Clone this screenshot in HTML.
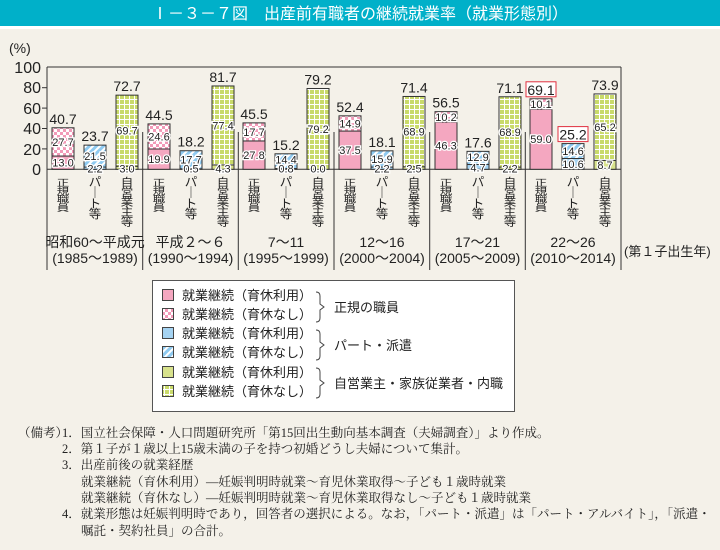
<!DOCTYPE html>
<html><head><meta charset="utf-8"><style>
body{margin:0;background:#f4f1e9;}
svg{display:block;font-family:"Liberation Sans","Noto Sans CJK JP",sans-serif;}
.n{font-family:"Liberation Serif","Noto Serif CJK JP",serif;font-size:12.5px;fill:#222}
.i{font-size:11px;text-anchor:middle;fill:#222;stroke:#fff;stroke-width:2.5px;paint-order:stroke}
.t{font-size:14px;text-anchor:middle;fill:#222}
.v{font-size:12.5px;text-anchor:middle;fill:#222}
.y{font-size:14px;text-anchor:middle;fill:#222}
.bs rect{stroke:#333;stroke-width:1}
</style></head><body>
<svg width="720" height="550" viewBox="0 0 720 550" xmlns="http://www.w3.org/2000/svg">
<defs>
<pattern id="pk" width="6" height="6" patternUnits="userSpaceOnUse"><rect width="6" height="6" fill="#fff"/><rect width="3" height="3" fill="#f29ab8"/><rect x="3" y="3" width="3" height="3" fill="#f29ab8"/></pattern>
<pattern id="bl" width="5" height="5" patternUnits="userSpaceOnUse" patternTransform="rotate(45)"><rect width="5" height="5" fill="#fff"/><rect width="3" height="5" fill="#8fcaf0"/></pattern>
<pattern id="gr" width="5" height="5" patternUnits="userSpaceOnUse"><rect width="5" height="5" fill="#fff"/><rect width="4" height="4" fill="#c9da6a"/></pattern>
<g id="sk"><text y="0">正</text><text y="11.2">規</text><text y="22.4">職</text><text y="33.6">員</text></g>
<g id="pt"><text y="0">パ</text><text y="11.2">｜</text><text y="22.4">ト</text><text y="33.6">等</text></g>
<g id="ji"><text y="0">自</text><text y="11.2">営</text><text y="22.4">業</text><text y="33.6">主</text><text y="44.8">等</text></g>
</defs>
<rect width="720" height="550" fill="#f4f1e9"/>
<rect width="720" height="26" fill="#00b0c9"/>
<rect y="26" width="720" height="3" fill="#fff"/>
<text x="360" y="19" text-anchor="middle" fill="#fff" font-size="16">Ⅰ－３－７図　出産前有職者の継続就業率（就業形態別）</text>
<text x="9" y="53" font-size="14" fill="#222">(%)</text>
<g font-size="16" fill="#222" text-anchor="end">
<text x="41" y="73">100</text><text x="41" y="93">80</text><text x="41" y="114">60</text><text x="41" y="134">40</text><text x="41" y="155">20</text><text x="41" y="175">0</text>
</g>
<g stroke="#333" stroke-width="1">
<line x1="42" y1="87.7" x2="47" y2="87.7"/><line x1="42" y1="108.1" x2="47" y2="108.1"/><line x1="42" y1="128.5" x2="47" y2="128.5"/><line x1="42" y1="148.9" x2="47" y2="148.9"/>
<line x1="47" y1="67" x2="621" y2="67"/>
<line x1="47" y1="67" x2="47" y2="270"/>
<line x1="621" y1="67" x2="621" y2="270"/>
<line x1="47" y1="169.3" x2="621" y2="169.3"/>
<line x1="142.7" y1="132" x2="142.7" y2="270"/><line x1="238.3" y1="132" x2="238.3" y2="270"/><line x1="334" y1="132" x2="334" y2="270"/><line x1="429.7" y1="132" x2="429.7" y2="270"/><line x1="525.3" y1="132" x2="525.3" y2="270"/>
</g>
<g class="bs">
<rect x="52" y="156.04" width="22" height="13.26" fill="#f4a7c0"/><rect x="52" y="127.79" width="22" height="28.25" fill="url(#pk)"/>
<rect x="84" y="167.06" width="22" height="2.24" fill="#a5d3f2"/><rect x="84" y="145.13" width="22" height="21.93" fill="url(#bl)"/>
<rect x="116" y="166.24" width="22" height="3.06" fill="#d8e28c"/><rect x="116" y="95.15" width="22" height="71.09" fill="url(#gr)"/>
<rect x="148" y="149.0" width="22" height="20.3" fill="#f4a7c0"/><rect x="148" y="123.91" width="22" height="25.09" fill="url(#pk)"/>
<rect x="180" y="168.79" width="22" height="0.51" fill="#a5d3f2"/><rect x="180" y="150.74" width="22" height="18.05" fill="url(#bl)"/>
<rect x="212" y="164.91" width="22" height="4.39" fill="#d8e28c"/><rect x="212" y="85.97" width="22" height="78.95" fill="url(#gr)"/>
<rect x="243" y="140.94" width="22" height="28.36" fill="#f4a7c0"/><rect x="243" y="122.89" width="22" height="18.05" fill="url(#pk)"/>
<rect x="275" y="168.48" width="22" height="0.82" fill="#a5d3f2"/><rect x="275" y="153.8" width="22" height="14.69" fill="url(#bl)"/>
<rect x="307" y="88.52" width="22" height="80.78" fill="url(#gr)"/>
<rect x="339" y="131.05" width="22" height="38.25" fill="#f4a7c0"/><rect x="339" y="115.85" width="22" height="15.2" fill="url(#pk)"/>
<rect x="371" y="167.06" width="22" height="2.24" fill="#a5d3f2"/><rect x="371" y="150.84" width="22" height="16.22" fill="url(#bl)"/>
<rect x="403" y="166.75" width="22" height="2.55" fill="#d8e28c"/><rect x="403" y="96.47" width="22" height="70.28" fill="url(#gr)"/>
<rect x="435" y="122.07" width="22" height="47.23" fill="#f4a7c0"/><rect x="435" y="111.67" width="22" height="10.4" fill="url(#pk)"/>
<rect x="467" y="164.51" width="22" height="4.79" fill="#a5d3f2"/><rect x="467" y="151.35" width="22" height="13.16" fill="url(#bl)"/>
<rect x="499" y="167.06" width="22" height="2.24" fill="#d8e28c"/><rect x="499" y="96.78" width="22" height="70.28" fill="url(#gr)"/>
<rect x="530" y="109.12" width="22" height="60.18" fill="#f4a7c0"/><rect x="530" y="98.82" width="22" height="10.3" fill="url(#pk)"/>
<rect x="562" y="158.49" width="22" height="10.81" fill="#a5d3f2"/><rect x="562" y="143.6" width="22" height="14.89" fill="url(#bl)"/>
<rect x="594" y="160.43" width="22" height="8.87" fill="#d8e28c"/><rect x="594" y="93.93" width="22" height="66.5" fill="url(#gr)"/>
</g>
<rect x="526" y="81.8" width="30" height="15" fill="#fff" stroke="#e03040"/>
<rect x="558" y="126.6" width="30" height="15" fill="#fff" stroke="#e03040"/>
<g>
<text class="i" x="63" y="145.9">27.7</text><text class="i" x="63" y="166.7">13.0</text><text class="t" x="63" y="123.8">40.7</text>
<text class="i" x="95" y="160.1">21.5</text><text class="i" x="95" y="172.5">2.2</text><text class="t" x="95" y="141.1">23.7</text>
<text class="i" x="127" y="134.7">69.7</text><text class="i" x="127" y="172.5">3.0</text><text class="t" x="127" y="91.2">72.7</text>
<text class="i" x="159" y="140.5">24.6</text><text class="i" x="159" y="163.1">19.9</text><text class="t" x="159" y="119.9">44.5</text>
<text class="i" x="191" y="163.3">17.7</text><text class="i" x="191" y="172.5">0.5</text><text class="t" x="191" y="146.7">18.2</text>
<text class="i" x="223" y="129.4">77.4</text><text class="i" x="223" y="172.5">4.3</text><text class="t" x="223" y="82">81.7</text>
<text class="i" x="254" y="135.9">17.7</text><text class="i" x="254" y="159.1">27.8</text><text class="t" x="254" y="118.9">45.5</text>
<text class="i" x="286" y="163.5">14.4</text><text class="i" x="286" y="172.5">0.8</text><text class="t" x="286" y="149.8">15.2</text>
<text class="i" x="318" y="132.9">79.2</text><text class="i" x="318" y="172.5">0.0</text><text class="t" x="318" y="84.5">79.2</text>
<text class="i" x="350" y="127.5">14.9</text><text class="i" x="350" y="154.2">37.5</text><text class="t" x="350" y="111.9">52.4</text>
<text class="i" x="382" y="162.9">15.9</text><text class="i" x="382" y="172.5">2.2</text><text class="t" x="382" y="146.8">18.1</text>
<text class="i" x="414" y="135.6">68.9</text><text class="i" x="414" y="172.5">2.5</text><text class="t" x="414" y="92.5">71.4</text>
<text class="i" x="446" y="120.9">10.2</text><text class="i" x="446" y="149.7">46.3</text><text class="t" x="446" y="107.7">56.5</text>
<text class="i" x="478" y="160.9">12.9</text><text class="i" x="478" y="171.5">4.7</text><text class="t" x="478" y="147.4">17.6</text>
<text class="i" x="510" y="135.9">68.9</text><text class="i" x="510" y="172.5">2.2</text><text class="t" x="510" y="92.8">71.1</text>
<text class="i" x="541" y="108">10.1</text><text class="i" x="541" y="143.2">59.0</text><text class="t" x="541" y="94.8">69.1</text>
<text class="i" x="573" y="155">14.6</text><text class="i" x="573" y="167.9">10.6</text><text class="t" x="573" y="139.6">25.2</text>
<text class="i" x="605" y="131.2">65.2</text><text class="i" x="605" y="168.9">8.7</text><text class="t" x="605" y="89.9">73.9</text>
</g>
<g class="v">
<use href="#sk" transform="translate(63,186) scale(1,0.74)"/><use href="#pt" transform="translate(95,186) scale(1,0.95)"/><use href="#ji" transform="translate(127,186) scale(1,0.88)"/>
<use href="#sk" transform="translate(159,186) scale(1,0.74)"/><use href="#pt" transform="translate(191,186) scale(1,0.95)"/><use href="#ji" transform="translate(223,186) scale(1,0.88)"/>
<use href="#sk" transform="translate(254,186) scale(1,0.74)"/><use href="#pt" transform="translate(286,186) scale(1,0.95)"/><use href="#ji" transform="translate(318,186) scale(1,0.88)"/>
<use href="#sk" transform="translate(350,186) scale(1,0.74)"/><use href="#pt" transform="translate(382,186) scale(1,0.95)"/><use href="#ji" transform="translate(414,186) scale(1,0.88)"/>
<use href="#sk" transform="translate(446,186) scale(1,0.74)"/><use href="#pt" transform="translate(478,186) scale(1,0.95)"/><use href="#ji" transform="translate(510,186) scale(1,0.88)"/>
<use href="#sk" transform="translate(541,186) scale(1,0.74)"/><use href="#pt" transform="translate(573,186) scale(1,0.95)"/><use href="#ji" transform="translate(605,186) scale(1,0.88)"/>
</g>
<g class="y">
<text x="95" y="247">昭和60～平成元</text><text x="95" y="263">(1985～1989)</text>
<text x="190.5" y="247">平成２～６</text><text x="190.5" y="263">(1990～1994)</text>
<text x="286" y="247">7～11</text><text x="286" y="263">(1995～1999)</text>
<text x="382" y="247">12～16</text><text x="382" y="263">(2000～2004)</text>
<text x="477.5" y="247">17～21</text><text x="477.5" y="263">(2005～2009)</text>
<text x="573" y="247">22～26</text><text x="573" y="263">(2010～2014)</text>
</g>
<text x="624" y="256" font-size="13" fill="#222">(第１子出生年)</text>
<rect x="152.5" y="280.5" width="362" height="131" fill="#fff" stroke="#555"/>
<g font-size="13" fill="#222">
<rect x="162.5" y="289.5" width="11" height="11" fill="#f4a7c0" stroke="#444"/><text x="182" y="300">就業継続（育休利用）</text>
<rect x="162.5" y="308.5" width="11" height="11" fill="url(#pk)" stroke="#444"/><text x="182" y="319">就業継続（育休なし）</text>
<rect x="162.5" y="327.5" width="11" height="11" fill="#a5d3f2" stroke="#444"/><text x="182" y="338">就業継続（育休利用）</text>
<rect x="162.5" y="346.5" width="11" height="11" fill="url(#bl)" stroke="#444"/><text x="182" y="357">就業継続（育休なし）</text>
<rect x="162.5" y="366.5" width="11" height="11" fill="#d8e28c" stroke="#444"/><text x="182" y="377">就業継続（育休利用）</text>
<rect x="162.5" y="385.5" width="11" height="11" fill="url(#gr)" stroke="#444"/><text x="182" y="396">就業継続（育休なし）</text>
<text x="334" y="312">正規の職員</text>
<text x="334" y="350">パート・派遣</text>
<text x="334" y="388">自営業主・家族従業者・内職</text>
</g>
<g fill="none" stroke="#444" stroke-width="1">
<path d="M316 292 q4 0 4 4 v8 l4 3 l-4 3 v8 q0 4 -4 4"/>
<path d="M316 330 q4 0 4 4 v8 l4 3 l-4 3 v8 q0 4 -4 4"/>
<path d="M316 368 q4 0 4 4 v8 l4 3 l-4 3 v8 q0 4 -4 4"/>
</g>
<g>
<text x="18" y="437" class="n">（備考）</text>
<text x="62" y="437" class="n">1．国立社会保障・人口問題研究所「第15回出生動向基本調査（夫婦調査）」より作成。</text>
<text x="62" y="453" class="n">2．第１子が１歳以上15歳未満の子を持つ初婚どうし夫婦について集計。</text>
<text x="62" y="469" class="n">3．出産前後の就業経歴</text>
<text x="81" y="486" class="n">就業継続（育休利用）―妊娠判明時就業～育児休業取得～子ども１歳時就業</text>
<text x="81" y="502" class="n">就業継続（育休なし）―妊娠判明時就業～育児休業取得なし～子ども１歳時就業</text>
<text x="62" y="518" class="n">4．就業形態は妊娠判明時であり，回答者の選択による。なお，「パート・派遣」は「パート・アルバイト」，「派遣・</text>
<text x="81" y="535" class="n">嘱託・契約社員」の合計。</text>
</g>
</svg>
</body></html>
